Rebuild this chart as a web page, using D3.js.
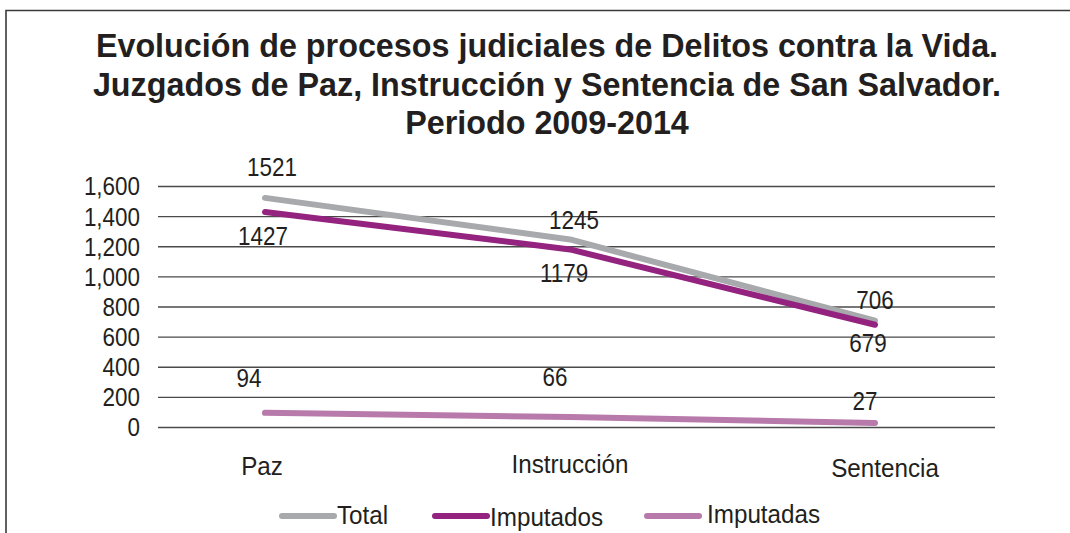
<!DOCTYPE html>
<html>
<head>
<meta charset="utf-8">
<script src="https://cdn.jsdelivr.net/npm/d3@7"></script>
<style>
  body { margin: 0; background: #fff; }
  text { font-family: "Liberation Sans", Arial, sans-serif; fill: #231f20; }
</style>
</head>
<body>
<script>
const width = 1070;
const height = 533;

const categories = ["Paz", "Instrucción", "Sentencia"];
const total = [1521, 1245, 706];
const imputados = [1427, 1179, 679];
const imputadas = [94, 66, 27];
const yTicks = [0, 200, 400, 600, 800, 1000, 1200, 1400, 1600];
const titleLines = [
  "Evolución de procesos judiciales de Delitos contra la Vida.",
  "Juzgados de Paz, Instrucción y Sentencia de San Salvador.",
  "Periodo 2009-2014"
];

const series = [
  { name: "Total", values: total, color: "#a7a9ac",
    lab: [[7, -22], [4, -10], [0, -12]] },
  { name: "Imputados", values: imputados, color: "#93237f",
    lab: [[-2, 33], [-6, 33], [-7, 27]] },
  { name: "Imputadas", values: imputadas, color: "#b87aaa",
    lab: [[-16, -26], [-15, -31], [-10, -13]] }
];

// body text looks condensed in the original, squeeze it horizontally
const fs = "25.5px";
const at = (px, py, sx = 0.88) => `translate(${px},${py}) scale(${sx},1)`;

const svg = d3.select("body")
  .append("svg")
  .attr("width", width)
  .attr("height", height);

// frame
svg.append("path")
  .attr("d", `M6,${height} V10.5 H${width}`)
  .attr("fill", "none")
  .attr("stroke", "#3a3a3a")
  .attr("stroke-width", 1.6);

// title
svg.append("text")
  .attr("text-anchor", "middle")
  .style("font-weight", "bold")
  .style("font-size", "32.3px")
  .selectAll("tspan")
  .data(titleLines)
  .enter()
  .append("tspan")
  .attr("x", 547)
  .attr("y", (d, i) => 57 + i * 38.5)
  .text(d => d);

const x = d3.scalePoint()
  .domain(categories)
  .range([265, 875]);

const y = d3.scaleLinear()
  .domain([0, 1600])
  .range([427, 186]);

// gridlines + y labels
const yAxis = svg.append("g")
  .attr("transform", "translate(158,0)")
  .call(d3.axisLeft(y)
    .tickValues(yTicks)
    .tickSize(-837)
    .tickFormat(d3.format(",")));
yAxis.select(".domain").remove();
yAxis.selectAll(".tick line")
  .attr("stroke", "#4a4a4a")
  .attr("stroke-width", 1.4);
yAxis.selectAll(".tick text")
  .attr("x", null)
  .attr("transform", at(-18, 0))
  .attr("fill", "#231f20")
  .attr("dy", "0.35em")
  .style("font-size", fs)
  .style("font-family", "'Liberation Sans', Arial, sans-serif");

// category labels
const catDx = [-3, 0, 10];
const catY = [475, 473, 477];
svg.append("g")
  .selectAll("text")
  .data(categories)
  .enter()
  .append("text")
  .attr("transform", (d, i) => at(x(d) + catDx[i], catY[i], 0.95))
  .attr("text-anchor", "middle")
  .style("font-size", fs)
  .text(d => d);

// lines
const line = d3.line()
  .x((d, i) => x(categories[i]))
  .y(d => y(d));

svg.append("g")
  .selectAll("path")
  .data(series)
  .enter()
  .append("path")
  .attr("d", d => line(d.values))
  .attr("fill", "none")
  .attr("stroke", d => d.color)
  .attr("stroke-width", 6)
  .attr("stroke-linecap", "round")
  .attr("stroke-linejoin", "round");

// data labels
series.forEach(s => {
  svg.append("g")
    .selectAll("text")
    .data(s.values)
    .enter()
    .append("text")
    .attr("transform", (d, i) => at(x(categories[i]) + s.lab[i][0], y(d) + s.lab[i][1]))
    .attr("text-anchor", "middle")
    .style("font-size", fs)
    .text(d => d);
});

// legend
const legendX = [280, 433, 645];
const legendTextY = [524, 526, 523];
const legend = svg.append("g")
  .selectAll("g")
  .data(series)
  .enter()
  .append("g")
  .attr("transform", (d, i) => `translate(${legendX[i]},0)`);

legend.append("line")
  .attr("x1", 2).attr("x2", 54)
  .attr("y1", 516).attr("y2", 516)
  .attr("stroke", d => d.color)
  .attr("stroke-width", 6)
  .attr("stroke-linecap", "round");

legend.append("text")
  .attr("transform", (d, i) => at(i === 2 ? 62 : 57, legendTextY[i], 0.97))
  .style("font-size", "25px")
  .text(d => d.name);
</script>
</body>
</html>
